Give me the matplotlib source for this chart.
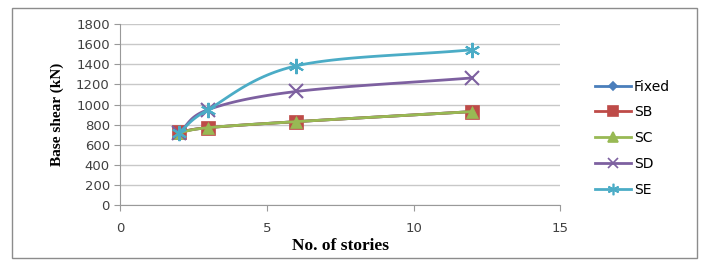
import numpy as np
import matplotlib
matplotlib.use("Agg")
import matplotlib.pyplot as plt
from matplotlib.patches import Rectangle

stories = [2, 3, 6, 12]
fixed = [725, 770, 830, 930]
sb = [725, 770, 830, 930]
sc = [720, 770, 830, 930]
sd = [720, 950, 1130, 1265]
se = [720, 950, 1385, 1545]

series = [
    ("Fixed", fixed, "#4A7EBB", "D", 5),
    ("SB", sb, "#BE4B48", "s", 10),
    ("SC", sc, "#98B954", "^", 9),
    ("SD", sd, "#7D60A0", "x", 10),
    ("SE", se, "#4BACC6", (6, 2, 0), 11),
]


def smooth(x, y, n=30):
    # catmull-rom style curve like excel's smoothed line
    x = np.asarray(x, float)
    y = np.asarray(y, float)
    px = np.concatenate([[2 * x[0] - x[1]], x, [2 * x[-1] - x[-2]]])
    py = np.concatenate([[2 * y[0] - y[1]], y, [2 * y[-1] - y[-2]]])
    xs, ys = [], []
    for i in range(1, len(px) - 2):
        t = np.linspace(0, 1, n)
        for arr, out in ((px, xs), (py, ys)):
            p0, p1, p2, p3 = arr[i - 1:i + 3]
            m1 = (p2 - p0) / 2
            m2 = (p3 - p1) / 2
            h00 = 2 * t**3 - 3 * t**2 + 1
            h10 = t**3 - 2 * t**2 + t
            h01 = -2 * t**3 + 3 * t**2
            h11 = t**3 - t**2
            out.extend(h00 * p1 + h10 * m1 + h01 * p2 + h11 * m2)
    return xs, ys


fig = plt.figure(figsize=(7.03, 2.65), dpi=100)
fig.patches.append(Rectangle((0.017, 0.026), 0.974, 0.945, transform=fig.transFigure,
                             fill=False, edgecolor="#8c8c8c", linewidth=1))
ax = fig.add_axes([0.171, 0.226, 0.626, 0.683])

for name, vals, col, mk, ms in series:
    xs, ys = smooth(stories, vals)
    ax.plot(xs, ys, color=col, linewidth=2)
    ax.plot(stories, vals, linestyle="none", marker=mk, markersize=ms, color=col,
            markeredgewidth=1.5 if mk in ("x", (6, 2, 0)) else 0.5)
    ax.plot([], [], color=col, linewidth=2, marker=mk, markersize=ms * 0.75, label=name,
            markeredgewidth=1.2)

ax.set_xlim(0, 15)
ax.set_ylim(0, 1800)
ax.set_xticks([0, 5, 10, 15])
ax.set_yticks(range(0, 1801, 200))
ax.grid(axis="y", color="#c8c8c8", linewidth=1)
ax.set_axisbelow(True)
for s in ["top", "right"]:
    ax.spines[s].set_visible(False)
for s in ["left", "bottom"]:
    ax.spines[s].set_color("#999999")
ax.tick_params(axis="both", colors="#999999", labelcolor="#404040", labelsize=9.5,
               length=4, direction="out")
ax.tick_params(axis="x", pad=8)
for lab in ax.get_xticklabels() + ax.get_yticklabels():
    lab.set_family("DejaVu Sans")

ax.set_xlabel("No. of stories", fontfamily="Liberation Serif", fontweight="bold",
              fontsize=12.5, labelpad=2)
ax.set_ylabel("Base shear (kN)", fontfamily="Liberation Serif", fontweight="bold",
              fontsize=11, labelpad=9)

ax.legend(loc="center left", bbox_to_anchor=(1.05, 0.37), frameon=False,
          prop={"family": "DejaVu Sans", "size": 10}, handlelength=2.6,
          handletextpad=0.2, labelspacing=0.85)

fig.savefig("out.png", dpi=100)
